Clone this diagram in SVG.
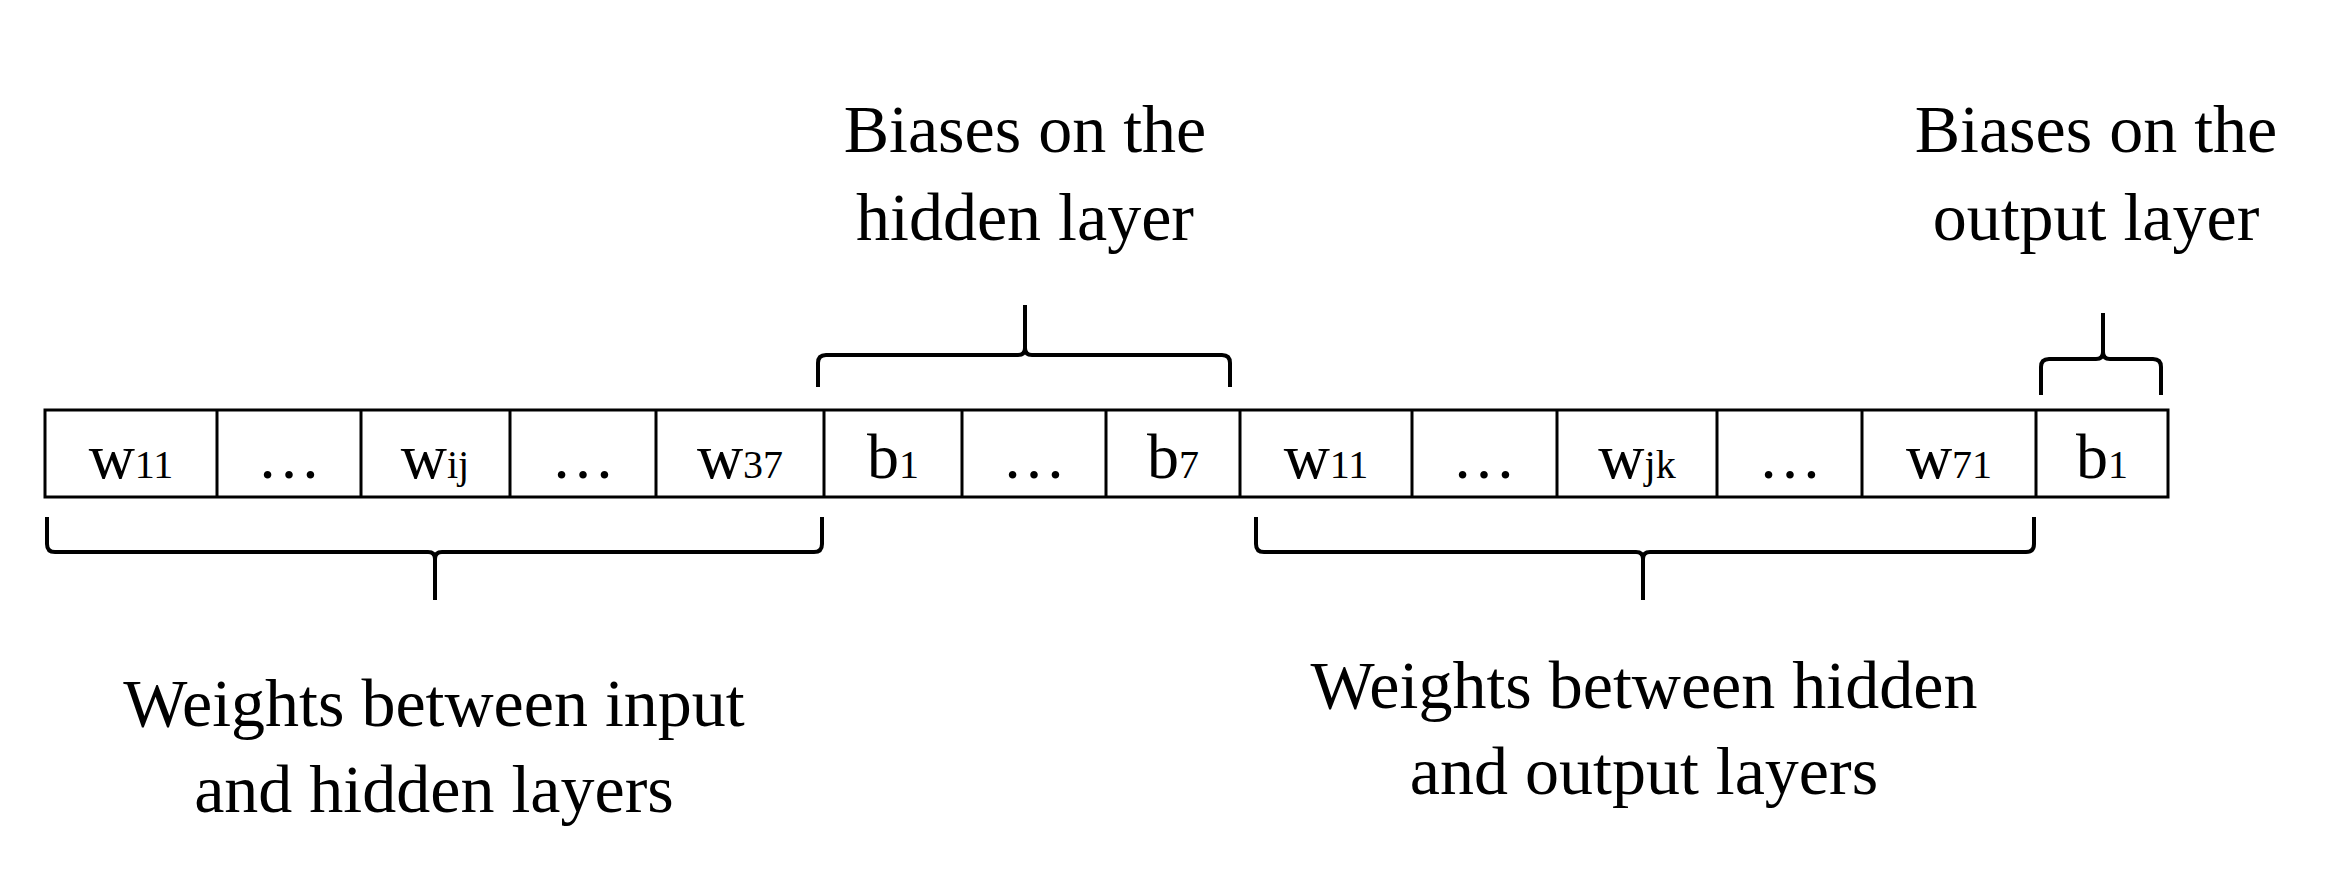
<svg xmlns="http://www.w3.org/2000/svg" width="2347" height="887" viewBox="0 0 2347 887">
<style>
text{font-family:"Liberation Serif","Times New Roman",serif;fill:#000;text-anchor:middle}
.lbl{font-size:68px}
.c{font-size:64px}
.s{font-size:40px}
.cell{fill:#fff;stroke:#000;stroke-width:3}
.br{fill:none;stroke:#000;stroke-width:4}
</style>
<rect width="2347" height="887" fill="#fff"/>
<g id="cells">
<rect class="cell" x="45" y="410" width="2123" height="87" stroke-width="4"/>
<path d="M217 410V497M361 410V497M510 410V497M656 410V497M824 410V497M962 410V497M1106 410V497M1240 410V497M1412 410V497M1557 410V497M1717 410V497M1862 410V497M2036 410V497" stroke="#000" stroke-width="3"/>
<g id="c1"><text class="c" x="131" y="478">w<tspan class="s">11</tspan></text></g>
<g id="c2"><text class="c" x="289" y="478">…</text></g>
<g id="c3"><text class="c" x="435" y="478">w<tspan class="s">ij</tspan></text></g>
<g id="c4"><text class="c" x="583" y="478">…</text></g>
<g id="c5"><text class="c" x="740" y="478">w<tspan class="s">37</tspan></text></g>
<g id="c6"><text class="c" x="893" y="478">b<tspan class="s">1</tspan></text></g>
<g id="c7"><text class="c" x="1034" y="478">…</text></g>
<g id="c8"><text class="c" x="1173" y="478">b<tspan class="s">7</tspan></text></g>
<g id="c9"><text class="c" x="1326" y="478">w<tspan class="s">11</tspan></text></g>
<g id="c10"><text class="c" x="1484" y="478">…</text></g>
<g id="c11"><text class="c" x="1637" y="478">w<tspan class="s">jk</tspan></text></g>
<g id="c12"><text class="c" x="1790" y="478">…</text></g>
<g id="c13"><text class="c" x="1949" y="478">w<tspan class="s">71</tspan></text></g>
<g id="c14"><text class="c" x="2102" y="478">b<tspan class="s">1</tspan></text></g>
</g>
<g id="connectors">
<path class="br" d="M818 387V363Q818 355 826 355H1018Q1025 355 1025 348V305M1025 348Q1025 355 1032 355H1222Q1230 355 1230 363V387"/>
<path class="br" d="M2041 395V367Q2041 359 2049 359H2096Q2103 359 2103 352V313M2103 352Q2103 359 2110 359H2153Q2161 359 2161 367V395"/>
<path class="br" d="M47 517V544Q47 552 55 552H428Q435 552 435 559V600M435 559Q435 552 442 552H814Q822 552 822 544V517"/>
<path class="br" d="M1256 517V544Q1256 552 1264 552H1636Q1643 552 1643 559V600M1643 559Q1643 552 1650 552H2026Q2034 552 2034 544V517"/>
</g>
<g id="labels">
<text class="lbl" x="1025" y="152">Biases on the</text>
<text class="lbl" x="1025" y="240">hidden layer</text>
<text class="lbl" x="2096" y="152">Biases on the</text>
<text class="lbl" x="2096" y="240">output layer</text>
<text class="lbl" x="434" y="726">Weights between input</text>
<text class="lbl" x="434" y="812">and hidden layers</text>
<text class="lbl" x="1644" y="708">Weights between hidden</text>
<text class="lbl" x="1644" y="794">and output layers</text>
</g>
</svg>
